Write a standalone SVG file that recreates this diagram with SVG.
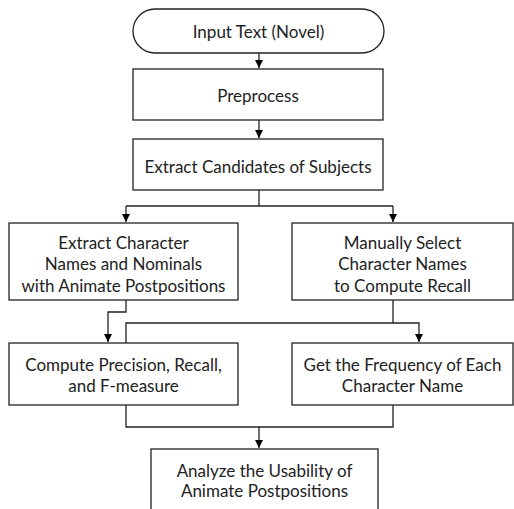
<svg xmlns="http://www.w3.org/2000/svg" width="514" height="509" viewBox="0 0 514 509">
<defs>
<marker id="ah" viewBox="0 0 10 10" refX="10" refY="5" markerWidth="8" markerHeight="8" markerUnits="userSpaceOnUse" orient="auto">
<path d="M0,0 L10,5 L0,10 z" fill="#000"/>
</marker>
<style>
.box{fill:#fff;stroke:#222;stroke-width:1.3}
.t{font-family:Lato,"Noto Sans",sans-serif;font-size:17px;fill:#222;text-anchor:middle}
.c{fill:none;stroke:#222;stroke-width:1.3}
</style>
</defs>
<rect width="514" height="509" fill="#fff"/>
<g id="input"><rect class="box" x="133" y="9" width="251" height="44" rx="22" ry="22"/><text class="t" x="258.5" y="38">Input Text (Novel)</text></g>
<g id="preprocess"><rect class="box" x="133" y="69" width="250" height="51"/><text class="t" x="258" y="102">Preprocess</text></g>
<g id="extract"><rect class="box" x="133" y="139" width="250" height="51"/><text class="t" x="258" y="173">Extract Candidates of Subjects</text></g>
<g id="extractnames"><rect class="box" x="9" y="223" width="229" height="77"/><text class="t" x="123.5" y="249">Extract Character</text><text class="t" x="123.5" y="270">Names and Nominals</text><text class="t" x="123.5" y="292">with Animate Postpositions</text></g>
<g id="manual"><rect class="box" x="292" y="223" width="221" height="77"/><text class="t" x="402.5" y="249">Manually Select</text><text class="t" x="402.5" y="270">Character Names</text><text class="t" x="402.5" y="292">to Compute Recall</text></g>
<g id="compute"><rect class="box" x="9" y="343" width="229" height="62"/><text class="t" x="123.5" y="371">Compute Precision, Recall,</text><text class="t" x="123.5" y="392">and F-measure</text></g>
<g id="frequency"><rect class="box" x="292" y="343" width="221" height="62"/><text class="t" x="402.5" y="371">Get the Frequency of Each</text><text class="t" x="402.5" y="392">Character Name</text></g>
<g id="analyze"><rect class="box" x="151" y="449" width="227" height="70"/><text class="t" x="264.5" y="477">Analyze the Usability of</text><text class="t" x="264.5" y="497">Animate Postpositions</text></g>
<g id="connectors">
<path class="c" d="M259,53 V68" marker-end="url(#ah)"/>
<path class="c" d="M259,120 V138" marker-end="url(#ah)"/>
<path class="c" d="M259,190 V206"/>
<path class="c" d="M126,206 H393"/>
<path class="c" d="M126,206 V222" marker-end="url(#ah)"/>
<path class="c" d="M393,206 V222" marker-end="url(#ah)"/>
<path class="c" d="M126,300 V312 H108 V342" marker-end="url(#ah)"/>
<path class="c" d="M393,300 V323"/>
<path class="c" d="M126,343 V323 H419 V342" marker-end="url(#ah)"/>
<path class="c" d="M126,405 V427 H393 V405"/>
<path class="c" d="M259,427 V448" marker-end="url(#ah)"/>
</g>
</svg>
